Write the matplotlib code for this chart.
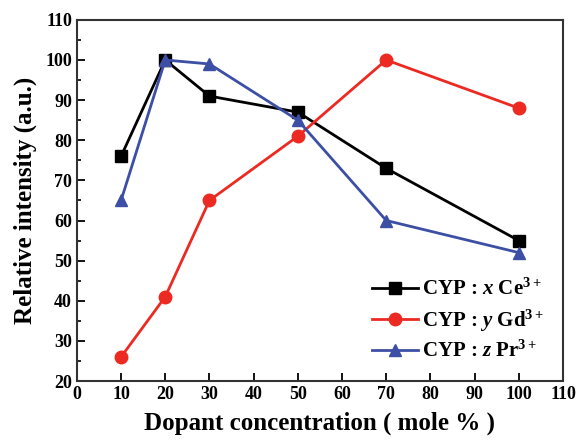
import matplotlib
matplotlib.use('Agg')
import matplotlib.pyplot as plt

# dopant concentration (mole %)
conc = [10, 20, 30, 50, 70, 100]
ce = [76, 100, 91, 87, 73, 55]
gd = [26, 41, 65, 81, 100, 88]
pr = [65, 100, 99, 85, 60, 52]

plt.rcParams['font.family'] = ['Liberation Serif', 'DejaVu Serif']
plt.rcParams['font.weight'] = 'bold'
plt.rcParams['mathtext.fontset'] = 'custom'
plt.rcParams['mathtext.rm'] = 'Liberation Serif:bold'
plt.rcParams['mathtext.it'] = 'Liberation Serif:bold:italic'
plt.rcParams['mathtext.bf'] = 'Liberation Serif:bold'

fig = plt.figure(figsize=(5.78, 4.41), dpi=100)
ax = fig.add_axes([0.133, 0.136, 0.841, 0.819])

ax.plot(conc, ce, '-s', color='black', lw=2, ms=8, label=r'CYP : $\mathit{x}$ Ce$^{3+}$')
ax.plot(conc, gd, '-o', color='#ec2a22', lw=2, ms=9, label=r'CYP : $\mathit{y}$ Gd$^{3+}$')
ax.plot(conc, pr, '-^', color='#3c4fa5', lw=2, ms=9, label=r'CYP : $\mathit{z}$ Pr$^{3+}$')

ax.set_xlim(0, 110)
ax.set_ylim(20, 110)
ax.set_xticks(range(0, 111, 10))
ax.set_yticks(range(20, 111, 10))
ax.set_yticks(range(25, 110, 10), minor=True)
ax.tick_params(direction='in', labelsize=13, width=1.3, length=6)
ax.tick_params(which='minor', direction='in', width=1.2, length=3)
for s in ax.spines.values():
    s.set_linewidth(1.5)
    s.set_color('#333333')

ax.set_xlabel('Dopant concentration ( mole % )', fontsize=18, fontweight='bold', labelpad=6)
ax.set_ylabel('Relative intensity (a.u.)', fontsize=18, fontweight='bold', labelpad=6)

ax.legend(loc='lower right', frameon=False, fontsize=15, handlelength=2.2,
          handletextpad=0.2, labelspacing=0.35, borderaxespad=0.5)

fig.savefig('out.png', dpi=100)
